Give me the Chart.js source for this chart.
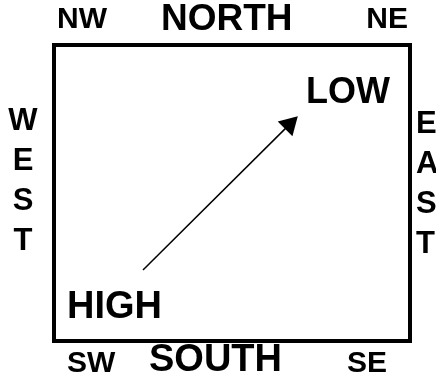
<!DOCTYPE html>
<html>
<head>
<meta charset="utf-8">
<script src="https://cdn.jsdelivr.net/npm/chart.js@4"></script>
<style>
  html, body { margin: 0; padding: 0; background: #fff; }
  canvas { display: block; }
</style>
</head>
<body>
<canvas id="diagram" width="436" height="375"></canvas>
<script>
// arrow from HIGH to LOW, in a 0..100 box
const arrowX = [25.0, 66.1];
const arrowY = [24.0, 73.1];

// text around and inside the box
const cornerLabels = ['NW', 'NE', 'SW', 'SE'];
const sideLabels = ['NORTH', 'SOUTH', 'WEST', 'EAST'];
const pressureLabels = ['HIGH', 'LOW'];

const font = 'bold {s}px "Liberation Sans", Arial, sans-serif';

// draws the square frame and all the words
const labelPlugin = {
  id: 'labels',
  afterDraw(chart) {
    const ctx = chart.ctx;
    const a = chart.chartArea;
    ctx.save();
    ctx.strokeStyle = '#000';
    ctx.lineWidth = 4;
    ctx.strokeRect(a.left, a.top, a.right - a.left, a.bottom - a.top);

    ctx.fillStyle = '#000';
    ctx.textBaseline = 'alphabetic';
    function put(txt, x, y, size, align) {
      ctx.font = font.replace('{s}', size);
      ctx.textAlign = align || 'left';
      ctx.fillText(txt, x, y);
    }

    // corners
    put(cornerLabels[0], a.left + 3, a.top - 17, 30);
    put(cornerLabels[1], a.right - 2, a.top - 17, 30, 'right');
    put(cornerLabels[2], a.left + 13, a.bottom + 31, 30);
    put(cornerLabels[3], a.right - 23, a.bottom + 31, 30, 'right');

    // sides
    put(sideLabels[0], a.left + 107, a.top - 15, 37);
    put(sideLabels[1], a.left + 95, a.bottom + 30, 38);
    const west = sideLabels[2].split('');
    west.forEach((ch, i) => put(ch, a.left - 31, a.top + 85 + i * 40, 31, 'center'));
    const east = sideLabels[3].split('');
    east.forEach((ch, i) => put(ch, a.right + 6, a.top + 88 + i * 40, 31));

    // inside
    put(pressureLabels[0], a.left + 13, a.bottom - 23, 38);
    put(pressureLabels[1], a.left + 252, a.top + 58, 36);
    ctx.restore();
  }
};

new Chart(document.getElementById('diagram'), {
  type: 'scatter',
  data: {
    datasets: [{
      data: arrowX.map((x, i) => ({ x: x, y: arrowY[i] })),
      showLine: true,
      borderColor: '#000',
      borderWidth: 1.5,
      backgroundColor: '#000',
      pointRadius: [0, 12],
      pointStyle: 'triangle',
      rotation: [0, 45],
      pointBorderWidth: 0
    }]
  },
  options: {
    responsive: false,
    animation: false,
    layout: { padding: { left: 54, right: 26, top: 45, bottom: 34 } },
    plugins: { legend: { display: false }, tooltip: { enabled: false } },
    scales: {
      x: { type: 'linear', min: 0, max: 100, display: false },
      y: { type: 'linear', min: 0, max: 100, display: false }
    }
  },
  plugins: [labelPlugin]
});
</script>
</body>
</html>
